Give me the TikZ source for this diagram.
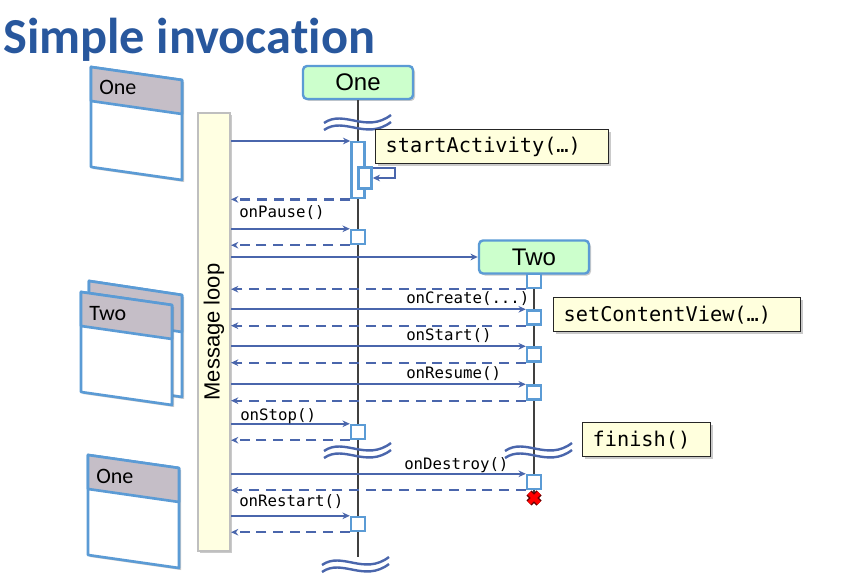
\documentclass[tikz,border=0pt]{standalone}
\usepackage{fontspec}
\setmainfont{Liberation Sans}
\setmonofont{DejaVu Sans Mono}
\newfontfamily\calibri{Carlito}[Ligatures=NoCommon]
\usepackage{tikz}
\usetikzlibrary{arrows.meta,shadows}

\definecolor{titleblue}{RGB}{40,87,157}
\definecolor{msgblue}{RGB}{74,102,172}
\definecolor{actblue}{RGB}{91,155,213}
\definecolor{headgreen}{RGB}{204,255,204}
\definecolor{notefill}{RGB}{255,255,221}
\definecolor{loopfill}{RGB}{255,255,226}
\definecolor{winheadfill}{RGB}{197,190,199}

\begin{document}
\begin{tikzpicture}[
    x=0.75pt, y=-0.75pt,
    softshadow/.style={drop shadow={shadow xshift=1.5pt, shadow yshift=-1.5pt, opacity=0.35, fill=black!60}},
    lifehead/.style={draw=actblue, fill=headgreen, rounded corners=3pt, line width=1.8pt,
        minimum width=82.5pt, minimum height=24.75pt, font=\fontsize{18}{20}\selectfont, softshadow},
    act/.style={draw=actblue, fill=white, line width=1.8pt, minimum width=10.5pt,
        minimum height=10.5pt, inner sep=0pt},
    note/.style={draw=black!85, fill=notefill, line width=1pt, inner xsep=7.5pt, minimum height=25.5pt,
        font=\ttfamily\fontsize{15.2}{18}\selectfont, softshadow},
    loopbox/.style={draw=black!25, fill=loopfill, line width=1.5pt, minimum width=24pt,
        minimum height=328.5pt, softshadow},
    lifeline/.style={draw=black!75, line width=0.9pt},
    msg/.style={-{Stealth[length=5.5pt,width=5pt]}, draw=msgblue, line width=1.7pt},
    reply/.style={msg, dash pattern=on 7.5pt off 5pt},
    lbl/.style={anchor=base west, inner sep=0pt, font=\ttfamily\fontsize{11.8}{14}\selectfont},
    brk/.style={draw=msgblue, line width=1.8pt},
    winbody/.style={draw=actblue, fill=white, line width=2pt, line join=round, softshadow},
    winhead/.style={draw=actblue, fill=winheadfill, line width=2pt, line join=round},
    winlabel/.style={anchor=base west, inner sep=0pt, font=\calibri\fontsize{16.5}{18}\selectfont}
]
\useasboundingbox (0,0) rectangle (857,581);

% title
\node[anchor=base west, inner sep=0pt, text=titleblue,
    font=\calibri\bfseries\fontsize{37.8}{44}\selectfont] (title) at (3,54) {Simple invocation};

% window icons on the left
\draw[winbody] (89,281) -- ++(93,14) -- ++(0,102) -- ++(-93,-14) -- cycle;
\draw[winhead] (89,281) -- ++(93,14) -- ++(0,37) -- ++(-93,-14) -- cycle;
\foreach \wx/\wy/\wtext [count=\i] in {91/67/One, 81/292/Two, 88/455/One} {
    \draw[winbody] (\wx,\wy) -- ++(91,13) -- ++(0,100) -- ++(-91,-13) -- cycle;
    \draw[winhead] (\wx,\wy) -- ++(91,13) -- ++(0,34) -- ++(-91,-13) -- cycle;
    \node[winlabel] (win\i) at (\wx+8,\wy+28) {\wtext};
}

% message loop
\node[loopbox] (loop) at (214,332) {};
\node[rotate=90, font=\fontsize{16.5}{18}\selectfont] (looplabel) at (loop.center) {Message loop};

% lifelines
\node[lifehead] (one) at (358,82.5) {One};
\node[lifehead] (two) at (534,257) {Two};
\coordinate (oneend) at (358,557);
\coordinate (kill) at (534,498);
\draw[lifeline] (one.south) -- (oneend);
\draw[lifeline] (two.south) -- (kill);

% breaks
\foreach \bx/\by in {324/119, 324/447, 505/447, 322/561} {
    \draw[brk] (\bx,\by+4) .. controls (\bx+20,\by-10) and (\bx+42,\by+15) .. (\bx+67,\by-4);
    \draw[brk] (\bx,\by+11) .. controls (\bx+20,\by-3) and (\bx+42,\by+22) .. (\bx+67,\by+3);
}

% activations
\node[act, minimum width=9.75pt, minimum height=42pt, anchor=north] (a1) at (358,141) {};
\node[act, minimum width=9.75pt, minimum height=16pt] (a1b) at (365,178) {};
\node[act] (a2) at (358,237) {};
\node[act] (a3) at (358,432) {};
\node[act] (a4) at (358,524) {};
\node[act] (b1) at (534,281) {};
\node[act] (b2) at (534,317.5) {};
\node[act] (b3) at (534,354.5) {};
\node[act] (b4) at (534,392.5) {};
\node[act] (b5) at (534,482) {};

% messages
\draw[msg] (loop.east |- a1.north) -- (a1.north west);
\draw[msg] ([yshift=-1.5pt]a1b.north east) -- ++(22,0) |- (a1b.east);
\draw[reply] (a1.south west) -- (loop.east |- a1.south);
\draw[msg] (loop.east |- a2.north) -- (a2.north west);
\draw[reply] (a2.south west) -- (loop.east |- a2.south);
\draw[msg] (loop.east |- two.west) -- (two.west);
\draw[reply] (b1.south west) -- (loop.east |- b1.south);
\foreach \b in {b2,b3,b4,b5,a3,a4} {
    \draw[msg] (loop.east |- \b.north) -- (\b.north west);
    \draw[reply] (\b.south west) -- (loop.east |- \b.south);
}

% labels
\node[lbl] (lpause) at (239,218) {onPause()};
\node[lbl] (lcreate) at (406,303) {onCreate(...)};
\node[lbl] (lstart) at (406,340) {onStart()};
\node[lbl] (lresume) at (406,378) {onResume()};
\node[lbl] (lstop) at (240,420) {onStop()};
\node[lbl] (ldestroy) at (404,469) {onDestroy()};
\node[lbl] (lrestart) at (239,506) {onRestart()};

% destroy mark
\foreach \w/\c in {5.5pt/red!40!black, 3.2pt/red} {
    \draw[line width=\w, draw=\c] (kill) +(-5,-5) -- +(5,5) (kill) +(-5,5) -- +(5,-5);
}

% notes
\node[note, anchor=north west, text width=159.75pt] (startnote) at (375,129) {startActivity(…)};
\node[note, anchor=north west, text width=170.25pt] (viewnote) at (553,297) {setContentView(…)};
\node[note, anchor=north west, text width=81pt] (finishnote) at (582,422) {finish()};
\end{tikzpicture}
\end{document}
